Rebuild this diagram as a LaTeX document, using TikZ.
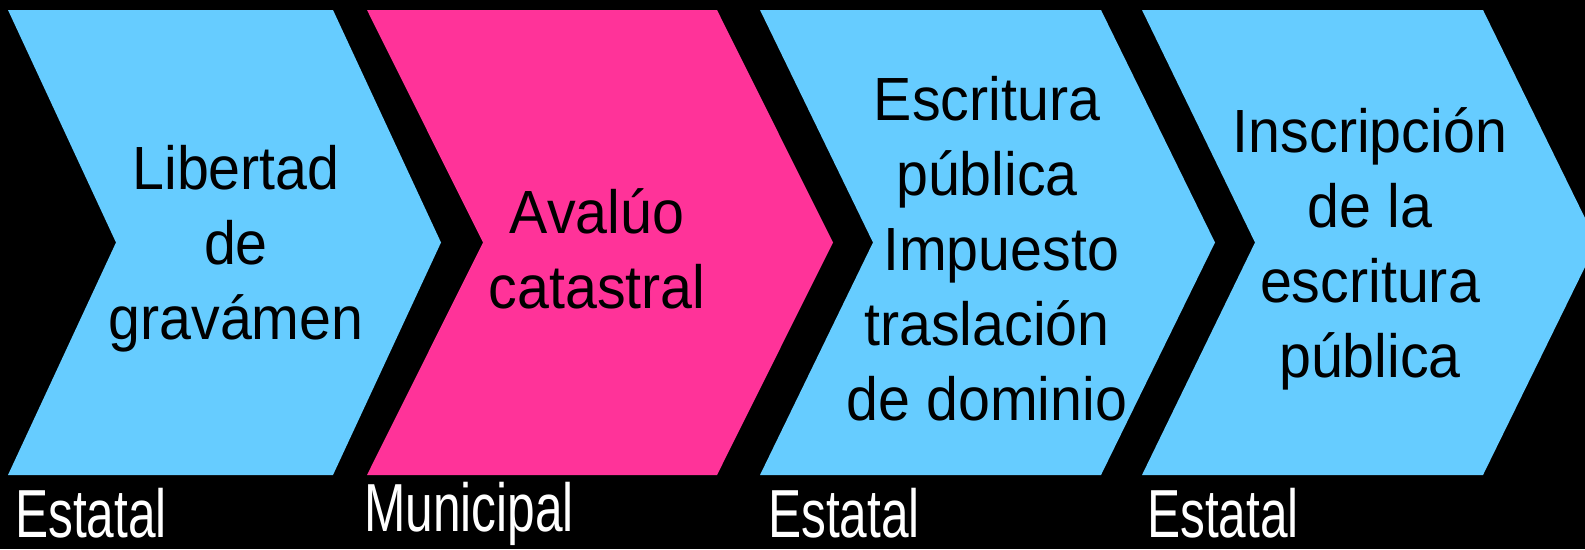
\documentclass[tikz,border=0pt]{standalone}
\usepackage{fontspec}
\setmainfont{Liberation Sans}
\newfontfamily\chevfont[FakeStretch=0.94]{Liberation Sans}
\newfontfamily\labfont[FakeStretch=0.73]{Liberation Sans}
\definecolor{chevblue}{HTML}{66CCFF}
\definecolor{chevpink}{HTML}{FF3399}
\tikzset{
  chevtext/.style={align=center, text=black, inner sep=0pt,
    font=\chevfont\fontsize{61}{75}\selectfont},
  lvl/.style={anchor=base west, text=white, inner sep=0pt,
    font=\labfont\fontsize{68}{78}\selectfont},
}
\begin{document}
\begin{tikzpicture}[x=1pt,y=-1pt]
\fill[black] (0,0) rectangle (1585,549);
\useasboundingbox (0,0) rectangle (1585,549);
\clip (0,0) rectangle (1585,549);
% chevrons
\fill[chevblue] (8,10) -- (333,10) -- (441,242.5) -- (333,475) -- (8,475) -- (116,242.5) -- cycle;
\fill[chevpink] (367,10) -- (717,10) -- (833,242.5) -- (717,475) -- (367,475) -- (483,242.5) -- cycle;
\fill[chevblue] (760,10) -- (1101,10) -- (1215,242.5) -- (1101,475) -- (760,475) -- (873,242.5) -- cycle;
\fill[chevblue] (1142,10) -- (1483,10) -- (1597,242.5) -- (1483,475) -- (1142,475) -- (1255,242.5) -- cycle;
% texts
\node[chevtext] (t1) at (236,249) {Libertad\\de\\gravámen};
\node[chevtext] (t2) at (597,249) {Avalúo\\catastral};
\node[chevtext] (t3) at (987,249) {Escritura\\pública\\\hspace*{28pt}Impuesto\\traslación\\de dominio};
\node[chevtext] (t4) at (1370,249) {Inscripción\\de la\\escritura\\pública};
% bottom labels
\node[lvl] (l1) at (15,537) {Estatal};
\node[lvl] (l2) at (364,531) {Municipal};
\node[lvl] (l3) at (768,537) {Estatal};
\node[lvl] (l4) at (1147,537) {Estatal};
\end{tikzpicture}
\end{document}
